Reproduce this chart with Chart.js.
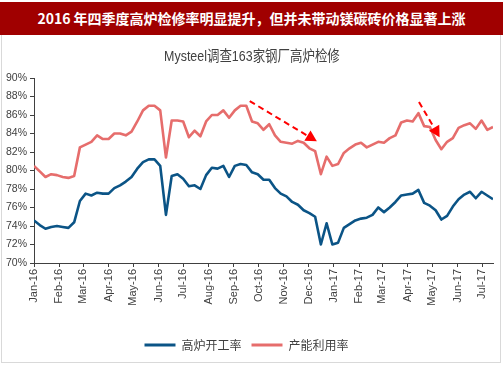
<!DOCTYPE html>
<html><head><meta charset="utf-8">
<script src="https://cdn.jsdelivr.net/npm/chart.js@4"></script>
<style>
html,body{margin:0;padding:0;background:#fff;}
#wrap{position:relative;width:503px;height:378px;overflow:hidden;background:#fff;}
#frame{position:absolute;left:1px;top:35px;width:500px;height:328px;border:1px solid #d9d9d9;border-top:none;box-sizing:border-box;}
#bar{position:absolute;left:0;top:2px;width:503px;height:33px;background:#a00000;color:#fff;font:bold 14px "Noto Sans CJK SC",sans-serif;text-align:center;line-height:33px;z-index:2;}
#sub{position:absolute;left:0;top:44px;width:503px;text-align:center;font:15px "Liberation Sans","Noto Sans CJK SC",sans-serif;color:#404040;z-index:2;transform:scaleX(0.83);transform-origin:254px 0;}
canvas{position:absolute;left:0;top:0;z-index:1;}
</style></head>
<body>
<div id="wrap">
<div id="frame"></div>
<div id="bar">2016 年四季度高炉检修率明显提升，但并未带动镁碳砖价格显著上涨</div>
<div id="sub">Mysteel调查163家钢厂高炉检修</div>
<canvas id="c" width="503" height="378"></canvas>
</div>
<script>
// Month tick labels (x axis), weekly data starting 2016-01-01
const monthLabels = ['Jan-16','Feb-16','Mar-16','Apr-16','May-16','Jun-16','Jul-16','Aug-16','Sep-16','Oct-16','Nov-16','Dec-16','Jan-17','Feb-17','Mar-17','Apr-17','May-17','Jun-17','Jul-17'];
const seriesNames = ['高炉开工率','产能利用率'];
const seriesColors = ['#0b5486','#e66d6c'];
// 高炉开工率 (%) weekly
const blastFurnaceRate = [74.6,74.1,73.7,73.9,74.0,73.9,73.8,74.4,76.7,77.5,77.3,77.6,77.5,77.5,78.1,78.4,78.8,79.3,80.2,80.9,81.2,81.2,80.5,75.2,79.4,79.6,79.1,78.3,78.4,78.0,79.5,80.3,80.2,80.5,79.3,80.5,80.7,80.6,79.8,79.6,79.0,79.0,78.1,77.5,77.2,76.6,76.3,75.7,75.4,75.0,72.0,74.3,72.0,72.2,73.8,74.2,74.6,74.8,74.9,75.2,76.0,75.5,76.0,76.6,77.3,77.4,77.5,77.9,76.5,76.2,75.7,74.7,75.1,76.1,76.9,77.4,77.7,77.0,77.7,77.3,76.9];
// 产能利用率 (%) weekly
const capacityUtilization = [80.5,79.9,79.3,79.6,79.5,79.3,79.2,79.4,82.5,82.8,83.1,83.8,83.4,83.4,84.0,84.0,83.8,84.2,85.3,86.5,87.0,87.0,86.5,81.4,85.4,85.4,85.3,83.6,84.3,83.7,85.3,86.0,86.0,86.5,85.7,86.5,87.0,87.0,85.3,85.1,84.4,85.0,83.8,83.1,83.0,82.9,83.2,83.0,82.4,82.1,79.6,81.5,80.5,80.7,81.9,82.4,82.8,83.0,82.5,82.8,83.1,83.0,83.5,83.8,85.2,85.4,85.3,86.2,84.8,84.7,83.3,82.3,83.1,83.5,84.6,84.9,85.1,84.5,85.4,84.4,84.7];
// annotation arrows in data coordinates [week index, %]
const arrowFrom = [[37.6,87.5],[67.1,87.4]];
const arrowTo = [[49.3,83.15],[70.7,83.6]];

const MON = ['Jan','Feb','Mar','Apr','May','Jun','Jul','Aug','Sep','Oct','Nov','Dec'];
function monthPos(lbl){
  const [m,y] = lbl.split('-');
  const d = Date.UTC(2000+parseInt(y,10), MON.indexOf(m), 1);
  return (d - Date.UTC(2016,0,1)) / 864e5 / 7;
}
const toPts = arr => arr.map((v,i)=>({x:i,y:v}));

const arrowPlugin = {
  id:'arrows',
  afterDatasetsDraw(chart){
    const {ctx, scales:{x,y}} = chart;
    ctx.save();
    arrowFrom.forEach((f,k)=>{
      const t = arrowTo[k];
      const x1=x.getPixelForValue(f[0]), y1=y.getPixelForValue(f[1]);
      const x2=x.getPixelForValue(t[0]), y2=y.getPixelForValue(t[1]);
      const ang=Math.atan2(y2-y1,x2-x1);
      const hl=11, hw=6;
      const bx=x2-hl*Math.cos(ang), by=y2-hl*Math.sin(ang);
      ctx.strokeStyle='#ff0000'; ctx.lineWidth=2; ctx.setLineDash([6,4]);
      ctx.beginPath(); ctx.moveTo(x1,y1); ctx.lineTo(bx,by); ctx.stroke();
      ctx.setLineDash([]);
      ctx.fillStyle='#ff0000';
      ctx.beginPath();
      ctx.moveTo(x2,y2);
      ctx.lineTo(bx+hw*Math.sin(ang), by-hw*Math.cos(ang));
      ctx.lineTo(bx-hw*Math.sin(ang), by+hw*Math.cos(ang));
      ctx.closePath(); ctx.fill();
    });
    ctx.restore();
  }
};

const axisColor='#404040';
new Chart(document.getElementById('c'), {
  type:'line',
  data:{
    datasets:[
      {label:seriesNames[0], data:toPts(blastFurnaceRate), borderColor:seriesColors[0], backgroundColor:seriesColors[0], borderWidth:2.6, pointRadius:0, tension:0, borderJoinStyle:'round'},
      {label:seriesNames[1], data:toPts(capacityUtilization), borderColor:seriesColors[1], backgroundColor:seriesColors[1], borderWidth:2.6, pointRadius:0, tension:0, borderJoinStyle:'round'}
    ]
  },
  options:{
    responsive:false, animation:false,
    layout:{padding:{left:0,right:10,top:78,bottom:17}},
    plugins:{
      tooltip:{enabled:false},
      legend:{
        position:'bottom',
        labels:{
          boxWidth:31, boxHeight:3, padding:10, color:'#404040',
          font:{size:12,family:'"Noto Sans CJK SC", sans-serif'},
          generateLabels(chart){
            return chart.data.datasets.map((d,i)=>({text:d.label, fillStyle:d.borderColor, strokeStyle:d.borderColor, lineWidth:0, datasetIndex:i, hidden:false, fontColor:'#404040'}));
          }
        }
      }
    },
    scales:{
      x:{
        type:'linear', min:0, max:80,
        afterBuildTicks(s){ s.ticks = monthLabels.map(l=>({value:monthPos(l)})); },
        ticks:{autoSkip:false, minRotation:90, maxRotation:90, padding:2, color:'#404040',
          font:{size:11,family:'"Liberation Sans", Arial, sans-serif'},
          callback:(v,i)=>monthLabels[i]},
        grid:{drawOnChartArea:false, tickLength:4, color:axisColor},
        border:{color:axisColor, width:1},
        afterFit(s){ s.height = 66; }
      },
      y:{
        min:70, max:90,
        ticks:{stepSize:2, padding:3, color:'#404040',
          font:{size:10.5,family:'"Liberation Sans Narrow","Liberation Sans", Arial, sans-serif'},
          callback:v=>v+'%'},
        grid:{drawOnChartArea:false, tickLength:4, color:axisColor},
        border:{color:axisColor, width:1},
        afterFit(s){ s.width = 34; }
      }
    }
  },
  plugins:[arrowPlugin]
});
</script>
</body></html>
